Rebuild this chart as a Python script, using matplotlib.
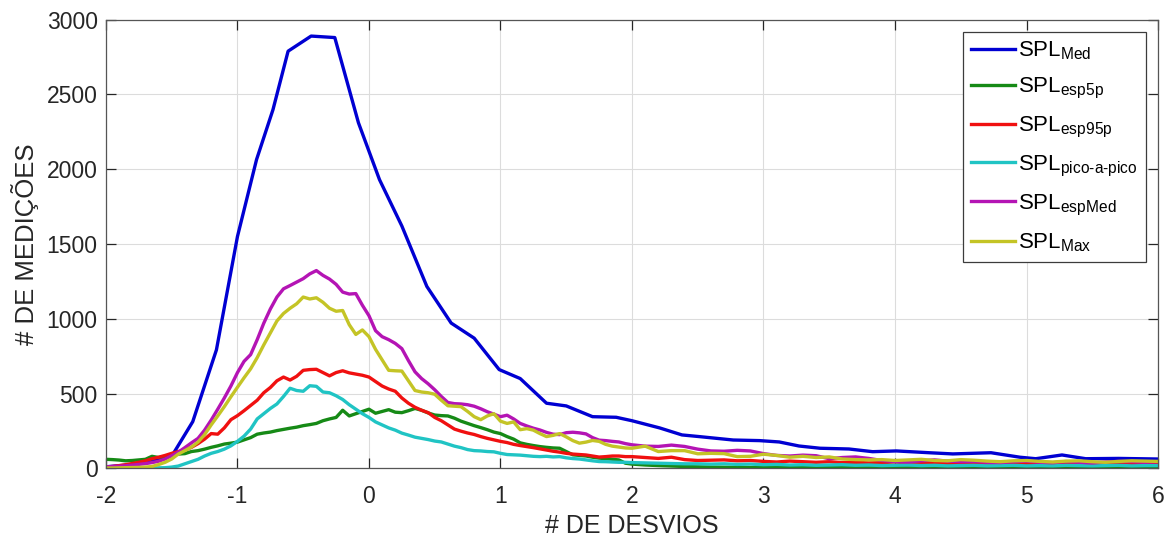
import numpy as np
import matplotlib
matplotlib.use('Agg')
import matplotlib.pyplot as plt

plt.rcParams['font.family'] = ['Liberation Sans', 'DejaVu Sans']
plt.rcParams['mathtext.fontset'] = 'custom'
plt.rcParams['mathtext.rm'] = 'Liberation Sans'
plt.rcParams['mathtext.it'] = 'Liberation Sans'
plt.rcParams['axes.unicode_minus'] = False

# eixo x comum das curvas "ruidosas": passo 0.05 ate 2, depois 0.1
x_grid = np.r_[np.linspace(-2, 2, 81), np.linspace(2.1, 6, 40)]

# SPL_Med (amostragem mais grossa)
x_med = [-2.0, -1.83, -1.66, -1.49, -1.34, -1.16, -1.0, -0.855, -0.73, -0.615, -0.44, -0.26,
         -0.08, 0.08, 0.25, 0.44, 0.625, 0.80, 0.99, 1.15, 1.35, 1.50, 1.70, 1.88, 2.0, 2.21,
         2.38, 2.51, 2.77, 2.97, 3.12, 3.27, 3.43, 3.65, 3.83, 4.01, 4.26, 4.44, 4.73, 4.95,
         5.07, 5.27, 5.45, 5.7, 6.0]
y_med = [10, 22, 45, 95, 312, 792, 1550, 2064, 2398, 2789, 2890, 2880,
         2310, 1930, 1620, 1216, 971, 870, 660, 600, 435, 417, 345, 341, 318, 270,
         223, 212, 189, 185, 176, 149, 134, 129, 111, 116, 104, 96, 104, 74,
         64, 89, 64, 66, 62]

y_esp5p = [60, 58, 55, 50, 52, 56, 60, 80, 72, 78, 86, 95, 98, 112, 118, 128, 140, 150, 162, 168,
           175, 190, 205, 228, 236, 242, 252, 260, 268, 275, 285, 292, 300, 318, 330, 340, 388, 350,
           365, 380, 395, 368, 380, 392, 375, 372, 385, 400, 388, 370, 356, 352, 350, 335, 315, 300,
           285, 272, 258, 242, 232, 212, 195, 170, 160, 152, 145, 140, 136, 134, 112, 90, 86, 82,
           74, 68, 64, 60, 56, 34, 28,
           22, 18, 15, 12, 10, 8, 7, 6, 5, 5, 4, 5, 4, 4, 5, 4, 4, 3, 4, 4,
           3, 4, 3, 3, 4, 3, 3, 3, 3, 3, 3, 3, 3, 3, 3, 3, 3, 3, 3, 3]

y_esp95p = [8, 12, 18, 24, 32, 40, 50, 64, 74, 86, 100, 112, 122, 140, 165, 195, 232, 228, 270, 325,
            352, 385, 420, 455, 505, 540, 585, 610, 590, 615, 655, 660, 662, 640, 618, 640, 652, 638,
            630, 622, 610, 580, 550, 530, 515, 470, 435, 408, 388, 372, 340, 318, 290, 262, 248, 236,
            226, 212, 200, 190, 180, 172, 160, 152, 145, 138, 130, 122, 114, 108, 100, 95, 92, 89,
            82, 75, 78, 82, 82, 78, 78,
            72, 66, 74, 58, 52, 54, 56, 50, 52, 46, 42, 48, 44, 40, 44, 38, 40, 36, 38, 42,
            36, 34, 38, 32, 36, 30, 34, 32, 28, 32, 30, 34, 28, 30, 32, 26, 30, 28, 32, 30]

y_pico = [0, 0, 0, 0, 0, 1, 1, 2, 3, 4, 8, 15, 30, 45, 60, 82, 100, 112, 128, 150,
          180, 215, 262, 330, 365, 400, 430, 480, 535, 520, 515, 552, 548, 510, 505, 485, 460, 425,
          395, 365, 340, 310, 290, 270, 255, 235, 222, 208, 200, 192, 182, 176, 162, 148, 138, 125,
          118, 116, 112, 110, 100, 92, 90, 88, 84, 80, 78, 80, 76, 78, 70, 65, 62, 56,
          50, 45, 44, 42, 40, 40, 38,
          36, 34, 32, 30, 30, 28, 30, 26, 28, 24, 26, 22, 24, 20, 22, 24, 20, 22, 18, 20,
          22, 18, 20, 16, 18, 20, 16, 18, 20, 16, 18, 16, 20, 18, 16, 18, 20, 16, 18, 18]

y_espmed = [10, 12, 14, 17, 21, 26, 31, 38, 47, 62, 84, 108, 138, 170, 200, 255, 322, 395, 470, 550,
            640, 715, 760, 860, 970, 1065, 1145, 1200, 1222, 1245, 1268, 1300, 1322, 1290, 1265, 1230,
            1178, 1165, 1168, 1090, 1020, 920, 880, 860, 835, 800, 720, 645, 600, 565, 525, 480, 440,
            432, 430, 425, 415, 398, 378, 362, 345, 355, 330, 300, 283, 268, 256, 240, 228, 225, 238,
            241, 237, 230, 205, 188, 185, 180, 176, 165, 157,
            148, 146, 155, 146, 128, 116, 114, 120, 116, 98, 86, 82, 88, 84, 64, 72, 76, 66, 52, 45,
            42, 50, 56, 48, 44, 46, 40, 38, 44, 48, 40, 38, 45, 40, 36, 42, 46, 44, 40, 44]

y_max = [2, 2, 3, 4, 5, 6, 8, 12, 25, 40, 62, 95, 118, 142, 175, 225, 290, 350, 412, 478,
         542, 605, 665, 740, 825, 905, 985, 1035, 1070, 1100, 1145, 1132, 1140, 1110, 1070, 1050,
         1055, 960, 895, 925, 880, 795, 725, 655, 652, 650, 585, 520, 510, 505, 495, 455, 418, 415,
         412, 380, 345, 325, 350, 365, 315, 300, 310, 258, 265, 255, 232, 212, 220, 232, 210, 185,
         168, 175, 186, 180, 160, 148, 142, 136, 134,
         148, 112, 118, 118, 97, 100, 98, 78, 80, 94, 86, 74, 80, 72, 76, 62, 58, 56, 58, 52,
         56, 60, 52, 50, 58, 54, 48, 44, 50, 52, 46, 42, 48, 50, 44, 40, 46, 50, 48, 46]

labels = [r'SPL$_{\mathrm{Med}}$', r'SPL$_{\mathrm{esp5p}}$', r'SPL$_{\mathrm{esp95p}}$',
          r'SPL$_{\mathrm{pico\text{-}a\text{-}pico}}$', r'SPL$_{\mathrm{espMed}}$', r'SPL$_{\mathrm{Max}}$']
colors = ['#0000d2', '#168a16', '#f01010', '#20c4c4', '#b414b4', '#c4c426']

fig = plt.figure(figsize=(11.67, 5.39), dpi=100)
ax = fig.add_axes([0.0908, 0.1312, 0.9015, 0.8324])

lw = 2.4
ax.plot(x_med, y_med, color=colors[0], lw=lw, label=labels[0])
series = [y_esp5p, y_esp95p, y_pico, y_espmed, y_max]
for i, ys in enumerate(series):
    ax.plot(x_grid, ys, color=colors[i + 1], lw=lw, label=labels[i + 1])

ax.set_xlim(-2, 6)
ax.set_ylim(0, 3000)
ax.set_xticks(range(-2, 7))
ax.set_yticks(range(0, 3001, 500))
ax.grid(True, color='#dcdcdc', lw=0.8)
ax.set_axisbelow(True)
ax.tick_params(direction='in', top=True, right=True, length=7, width=0.9,
               labelsize=16.5, colors='#262626')
ax.tick_params(axis='x', pad=12)
ax.tick_params(axis='y', pad=6)
for s in ax.spines.values():
    s.set_color('#555555')
    s.set_linewidth(0.9)

ax.set_xlabel('# DE DESVIOS', fontsize=18, color='#262626', labelpad=4)
ax.set_ylabel('# DE MEDIÇÕES', fontsize=18.5, color='#262626')
ax.yaxis.set_label_coords(-0.064, 0.5)

leg = ax.legend(loc='upper right', fontsize=16, fancybox=False, framealpha=1,
                edgecolor='#3c3c3c', handlelength=1.95, handletextpad=0.17,
                labelspacing=0.62, borderaxespad=0.55, borderpad=0.35)
leg.get_frame().set_linewidth(0.9)

fig.savefig('out.png', dpi=100)
